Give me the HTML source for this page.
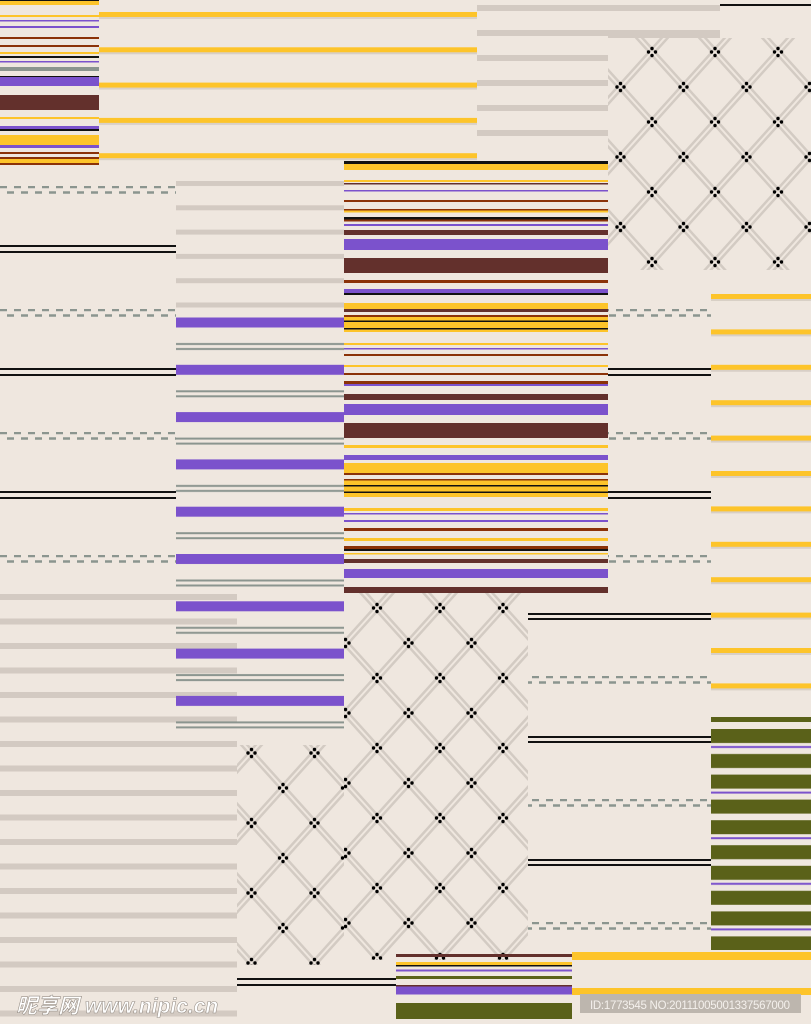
<!DOCTYPE html>
<html><head><meta charset="utf-8"><style>
html,body{margin:0;padding:0;background:#efe7df;}
svg{display:block;}
</style></head><body>
<svg width="811" height="1024" viewBox="0 0 811 1024" xmlns="http://www.w3.org/2000/svg">
<defs>
<pattern id="pB" patternUnits="userSpaceOnUse" x="0" y="12" width="811" height="35.3">
<rect x="0" y="0" width="811" height="5" fill="#fdc42a"/><rect x="0" y="5" width="811" height="2" fill="#d8cfc6"/>
</pattern>
<pattern id="pGray" patternUnits="userSpaceOnUse" x="0" y="5" width="811" height="25">
<rect x="0" y="0" width="811" height="6" fill="#d3cac2"/>
</pattern>
<pattern id="pK" patternUnits="userSpaceOnUse" x="0" y="594" width="811" height="24.5">
<rect x="0" y="0" width="811" height="6" fill="#d3cac2"/>
</pattern>
<pattern id="pE1" patternUnits="userSpaceOnUse" x="0" y="181" width="811" height="24.3">
<rect x="0" y="0" width="811" height="5" fill="#d3cac2"/>
</pattern>
<pattern id="pE2" patternUnits="userSpaceOnUse" x="0" y="317.5" width="811" height="47.3">
<rect x="0" y="0" width="811" height="10" fill="#7b52cc"/>
<rect x="0" y="25.5" width="811" height="2" fill="#8b958f"/>
<rect x="0" y="30.5" width="811" height="2" fill="#8b958f"/>
</pattern>
<pattern id="pD" patternUnits="userSpaceOnUse" x="0" y="186" width="811" height="123">
<line x1="0" y1="1" x2="811" y2="1" stroke="#8b958f" stroke-width="2.5" stroke-dasharray="7 7"/>
<line x1="7" y1="6.5" x2="811" y2="6.5" stroke="#8b958f" stroke-width="2.5" stroke-dasharray="7 7"/>
<rect x="0" y="59" width="811" height="2" fill="#111"/>
<rect x="0" y="65" width="811" height="2" fill="#111"/>
</pattern>
<pattern id="pL" patternUnits="userSpaceOnUse" x="0" y="553" width="811" height="123">
<line x1="0" y1="1" x2="811" y2="1" stroke="#8b958f" stroke-width="2.5" stroke-dasharray="7 7"/>
<line x1="7" y1="6.5" x2="811" y2="6.5" stroke="#8b958f" stroke-width="2.5" stroke-dasharray="7 7"/>
<rect x="0" y="60" width="811" height="2" fill="#111"/>
<rect x="0" y="65" width="811" height="2" fill="#111"/>
</pattern>
<pattern id="pH" patternUnits="userSpaceOnUse" x="0" y="294" width="811" height="35.4">
<rect x="0" y="0" width="811" height="5" fill="#fdc42a"/><rect x="0" y="5" width="811" height="2" fill="#d8cfc6"/>
</pattern>
<pattern id="pI" patternUnits="userSpaceOnUse" x="0" y="729" width="811" height="45.6">
<rect x="0" y="0" width="811" height="14" fill="#5a6119"/>
<rect x="0" y="17" width="811" height="2" fill="#7b52cc"/>
<rect x="0" y="25" width="811" height="14" fill="#5a6119"/>
</pattern>
<g id="cl">
<circle cx="-3.5" cy="0" r="1.7" fill="#000"/><circle cx="3.5" cy="0" r="1.7" fill="#000"/>
<circle cx="0" cy="-3.5" r="1.7" fill="#000"/><circle cx="0" cy="3.5" r="1.7" fill="#000"/>
</g>
<g id="tile">
<g stroke="#d3cbc3" stroke-width="2.5">
<line x1="-3" y1="0" x2="60" y2="70"/><line x1="3" y1="0" x2="66" y2="70"/>
<line x1="-66" y1="0" x2="-3" y2="70"/><line x1="-60" y1="0" x2="3" y2="70"/>
<line x1="66" y1="0" x2="3" y2="70"/><line x1="60" y1="0" x2="-3" y2="70"/>
<line x1="129" y1="0" x2="66" y2="70"/><line x1="123" y1="0" x2="60" y2="70"/>
</g>
<use href="#cl" x="0" y="0"/><use href="#cl" x="63" y="0"/><use href="#cl" x="0" y="70"/><use href="#cl" x="63" y="70"/><use href="#cl" x="31.5" y="35"/>
</g>
<pattern id="lat1" patternUnits="userSpaceOnUse" x="652" y="52" width="63" height="70"><use href="#tile"/></pattern>
<pattern id="lat2" patternUnits="userSpaceOnUse" x="377" y="608" width="63" height="70"><use href="#tile"/></pattern>
<pattern id="lat3" patternUnits="userSpaceOnUse" x="283" y="788" width="63" height="70"><use href="#tile"/></pattern>
</defs>
<rect width="811" height="1024" fill="#efe7df"/>
<!-- C gray top -->
<rect x="477" y="0" width="131" height="150" fill="url(#pGray)"/>
<rect x="608" y="0" width="112" height="12" fill="url(#pGray)"/>
<rect x="720" y="4" width="91" height="2" fill="#111"/>
<!-- B yellow -->
<rect x="99" y="0" width="378" height="162" fill="url(#pB)"/>
<!-- A -->
<g>
<rect x="0" y="0" width="99" height="1" fill="#111"/><rect x="0" y="1" width="99" height="4" fill="#fdc42a"/>
<rect x="0" y="15" width="99" height="2" fill="#fdc42a"/><rect x="0" y="20" width="99" height="1.5" fill="#7b52cc"/>
<rect x="0" y="26" width="99" height="2" fill="#7b52cc"/><rect x="0" y="37" width="99" height="2" fill="#8b3208"/>
<rect x="0" y="45" width="99" height="2" fill="#8b3208"/><rect x="0" y="52" width="99" height="2" fill="#fdc42a"/>
<rect x="0" y="56" width="99" height="2" fill="#111"/><rect x="0" y="61" width="99" height="1.5" fill="#7b52cc"/>
<rect x="0" y="67" width="99" height="4" fill="#8b958f"/><rect x="0" y="76" width="99" height="1" fill="#111"/>
<rect x="0" y="77" width="99" height="9" fill="#7b52cc"/><rect x="0" y="95" width="99" height="15" fill="#63302c"/>
<rect x="0" y="117" width="99" height="2" fill="#fdc42a"/><rect x="0" y="126" width="99" height="3" fill="#7b52cc"/>
<rect x="0" y="129" width="99" height="2" fill="#111"/><rect x="0" y="135" width="99" height="10" fill="#fdc42a"/>
<rect x="0" y="145" width="99" height="3" fill="#7b52cc"/><rect x="0" y="152" width="99" height="2" fill="#8b3208"/>
<rect x="0" y="157" width="99" height="2" fill="#8b3208"/><rect x="0" y="159" width="99" height="4" fill="#fdc42a"/>
<rect x="0" y="163" width="99" height="2" fill="#8b3208"/>
</g>
<!-- lattice top right -->
<rect x="608" y="38" width="203" height="232" fill="url(#lat1)"/>
<rect x="608" y="30" width="112" height="8" fill="#d3cac2"/>
<!-- D -->
<rect x="0" y="180" width="176" height="410" fill="url(#pD)"/>
<rect x="608" y="300" width="103" height="310" fill="url(#pD)"/>
<!-- K -->
<rect x="0" y="590" width="237" height="434" fill="url(#pK)"/>
<!-- E -->
<rect x="176" y="165" width="168" height="145" fill="url(#pE1)"/>
<rect x="176" y="310" width="168" height="432" fill="url(#pE2)"/>
<!-- H -->
<rect x="711" y="290" width="100" height="425" fill="url(#pH)"/>
<!-- I -->
<rect x="711" y="717" width="100" height="5" fill="#5a6119"/>
<rect x="711" y="729" width="100" height="221" fill="url(#pI)"/>
<!-- L -->
<rect x="528" y="605" width="183" height="330" fill="url(#pL)"/>
<!-- lattices -->
<rect x="344" y="593" width="184" height="367" fill="url(#lat2)"/>
<rect x="237" y="745" width="107" height="220" fill="url(#lat3)"/>
<!-- F -->
<g transform="translate(344,0)">
<rect y="161" width="264" height="3" fill="#111"/><rect y="164" width="264" height="6" fill="#fdc42a"/>
<rect y="180" width="264" height="2" fill="#fdc42a"/><rect y="183" width="264" height="1.5" fill="#63302c"/>
<rect y="190" width="264" height="1.5" fill="#7b52cc"/><rect y="200" width="264" height="2" fill="#8b3208"/>
<rect y="209" width="264" height="1.5" fill="#8b3208"/><rect y="210.5" width="264" height="2" fill="#fdc42a"/>
<rect y="217" width="264" height="2.5" fill="#111"/><rect y="219.5" width="264" height="2" fill="#8b3208"/>
<rect y="224" width="264" height="2" fill="#7b52cc"/><rect y="230" width="264" height="5" fill="#63302c"/>
<rect y="239" width="264" height="11" fill="#7b52cc"/><rect y="258" width="264" height="15" fill="#63302c"/>
<rect y="280" width="264" height="3" fill="#8b3208"/><rect y="289" width="264" height="4" fill="#7b52cc"/>
<rect y="293" width="264" height="2" fill="#111"/>
<rect y="303" width="264" height="6" fill="#fdc42a"/><rect y="309" width="264" height="3" fill="#63302c"/>
<rect y="315" width="264" height="2" fill="#8b3208"/><rect y="317" width="264" height="15" fill="#fdc42a"/>
<rect y="320.5" width="264" height="1.5" fill="#111"/><rect y="328" width="264" height="1.5" fill="#111"/>
<rect y="343" width="264" height="2" fill="#fdc42a"/><rect y="348" width="264" height="1.5" fill="#7b52cc"/>
<rect y="354" width="264" height="2" fill="#8b3208"/><rect y="365" width="264" height="2" fill="#fdc42a"/>
<rect y="373" width="264" height="2" fill="#8b3208"/><rect y="381" width="264" height="3" fill="#8b3208"/>
<rect y="384" width="264" height="2" fill="#7b52cc"/><rect y="394" width="264" height="6" fill="#63302c"/>
<rect y="404" width="264" height="11" fill="#7b52cc"/><rect y="423" width="264" height="15" fill="#63302c"/>
<rect y="445" width="264" height="3" fill="#fdc42a"/><rect y="455" width="264" height="5" fill="#7b52cc"/>
<rect y="463" width="264" height="10" fill="#fdc42a"/><rect y="473" width="264" height="2" fill="#8b3208"/>
<rect y="479" width="264" height="18" fill="#fdc42a"/><rect y="479" width="264" height="1.5" fill="#8b3208"/>
<rect y="485" width="264" height="1.5" fill="#111"/><rect y="491.5" width="264" height="1.5" fill="#111"/>
<rect y="508" width="264" height="3" fill="#fdc42a"/><rect y="513" width="264" height="1.5" fill="#7b52cc"/>
<rect y="520" width="264" height="2" fill="#7b52cc"/><rect y="528" width="264" height="3" fill="#8b3208"/>
<rect y="538" width="264" height="3" fill="#fdc42a"/><rect y="546" width="264" height="3" fill="#8b3208"/>
<rect y="549" width="264" height="2" fill="#111"/><rect y="553" width="264" height="1.5" fill="#fdc42a"/>
<rect y="559" width="264" height="4" fill="#63302c"/><rect y="569" width="264" height="9" fill="#7b52cc"/>
<rect y="587" width="264" height="6" fill="#63302c"/>
</g>
<!-- bottom middle black -->
<rect x="237" y="978" width="159" height="2" fill="#111"/><rect x="237" y="984" width="159" height="2" fill="#111"/>
<!-- M -->
<g transform="translate(396,0)">
<rect y="954" width="176" height="3" fill="#63302c"/><rect y="962" width="176" height="3" fill="#fdc42a"/>
<rect y="965" width="176" height="1.5" fill="#111"/><rect y="969.5" width="176" height="2" fill="#7b52cc"/>
<rect y="976" width="176" height="3" fill="#5a6119"/><rect y="985" width="176" height="1.5" fill="#63302c"/>
<rect y="986.5" width="176" height="8" fill="#7b52cc"/><rect y="1003" width="176" height="16" fill="#5a6119"/>
</g>
<!-- N -->
<rect x="572" y="952" width="239" height="8" fill="#fdc42a"/>
<rect x="572" y="988" width="239" height="7" fill="#fdc42a"/>
<rect x="580" y="994" width="221" height="19" fill="#bdb6ae"/>
<text x="590" y="1009" font-family="Liberation Sans, sans-serif" font-size="11.5" fill="#f4f0ec" textLength="200">ID:1773545 NO:20111005001337567000</text>
<text x="16" y="1013" font-family="Liberation Sans, 'Noto Sans CJK SC', sans-serif" font-size="21" font-weight="bold" font-style="italic" fill="#fff" stroke="#9a928a" stroke-width="0.6">昵享网 www.nipic.cn</text>
</svg>
</body></html>
